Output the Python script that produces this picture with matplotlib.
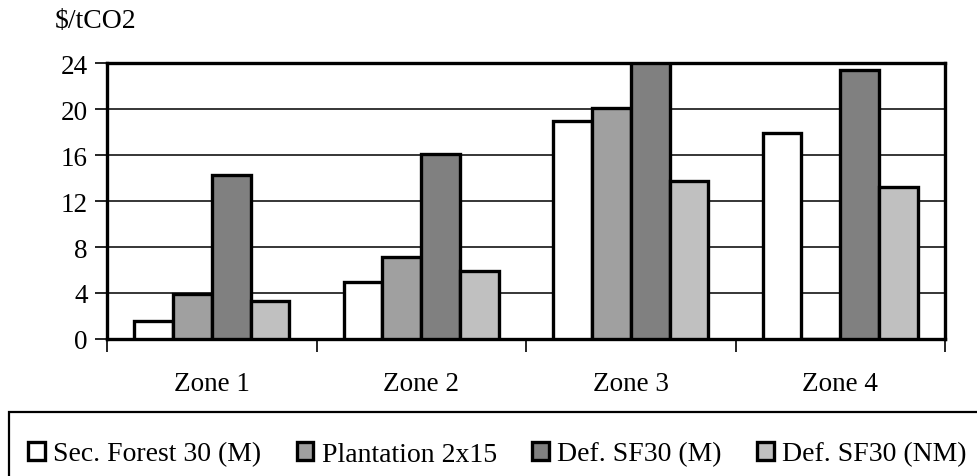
import numpy as np
import matplotlib
matplotlib.use('Agg')
from matplotlib import pyplot as plt
from matplotlib.patches import Rectangle

# data
zones = ['Zone 1', 'Zone 2', 'Zone 3', 'Zone 4']
series_names = ['Sec. Forest 30 (M)', 'Plantation 2x15', 'Def. SF30 (M)', 'Def. SF30 (NM)']
sec_forest = [1.6, 5.0, 19.0, 17.9]
plantation = [3.9, 7.1, 20.1, 0.0]
def_sf30_m = [14.3, 16.1, 24.0, 23.4]
def_sf30_nm = [3.3, 5.9, 13.7, 13.2]
yticks = [0, 4, 8, 12, 16, 20, 24]

colors = ['#ffffff', '#a0a0a0', '#808080', '#c0c0c0']
series = [sec_forest, plantation, def_sf30_m, def_sf30_nm]

plt.rcParams['font.family'] = ['Liberation Serif', 'DejaVu Serif']
fs = 19.5

fig = plt.figure(figsize=(9.77, 4.77), dpi=100)
ax = fig.add_axes([107/977, 1 - 340/477, (945 - 107)/977, (340 - 64)/477])

x = np.arange(len(zones))
w = 0.185
handles = []
for k, (vals, c) in enumerate(zip(series, colors)):
    h = ax.bar(x + (k - 1.5) * w, vals, w, color=c, edgecolor='black',
               linewidth=2.4, zorder=3)
    handles.append(h)

ax.set_xlim(-0.5, 3.5)
ax.set_ylim(0, 24)
ax.set_yticks(yticks)
ax.set_yticklabels([str(v) for v in yticks], fontsize=fs)
ax.yaxis.grid(True, color='black', linewidth=1.1, zorder=0)
ax.set_axisbelow(True)

# categories labelled in the middle, ticks at the boundaries
ax.set_xticks(x)
ax.set_xticklabels(zones, fontsize=fs)
ax.set_xticks(np.arange(-0.5, 4.0, 1.0), minor=True)
ax.tick_params(axis='x', which='major', length=0, pad=23)
ax.tick_params(axis='x', which='minor', length=9, width=1.2, direction='out')
ax.tick_params(axis='y', length=9, width=1.2, direction='out', pad=5)

for s in ax.spines.values():
    s.set_linewidth(2.4)
    s.set_color('black')

fig.text(55/977, 1 - 22/477, '$/tCO2', fontsize=20, ha='left', va='center')

# legend box running off the figure edge
fig.patches.append(Rectangle((9/977, -0.1), 1.1, 1 - 413/477 + 0.1,
                             transform=fig.transFigure, fill=False,
                             edgecolor='black', linewidth=1.6))
leg = fig.legend(handles, series_names, loc='center left', ncol=4,
                 bbox_to_anchor=(28/977, 1 - 455/477), frameon=False,
                 fontsize=20, handlelength=0.6, handleheight=0.6,
                 handletextpad=0.3, columnspacing=1.28, borderpad=0,
                 borderaxespad=0)

fig.savefig('out.png', dpi=100)
